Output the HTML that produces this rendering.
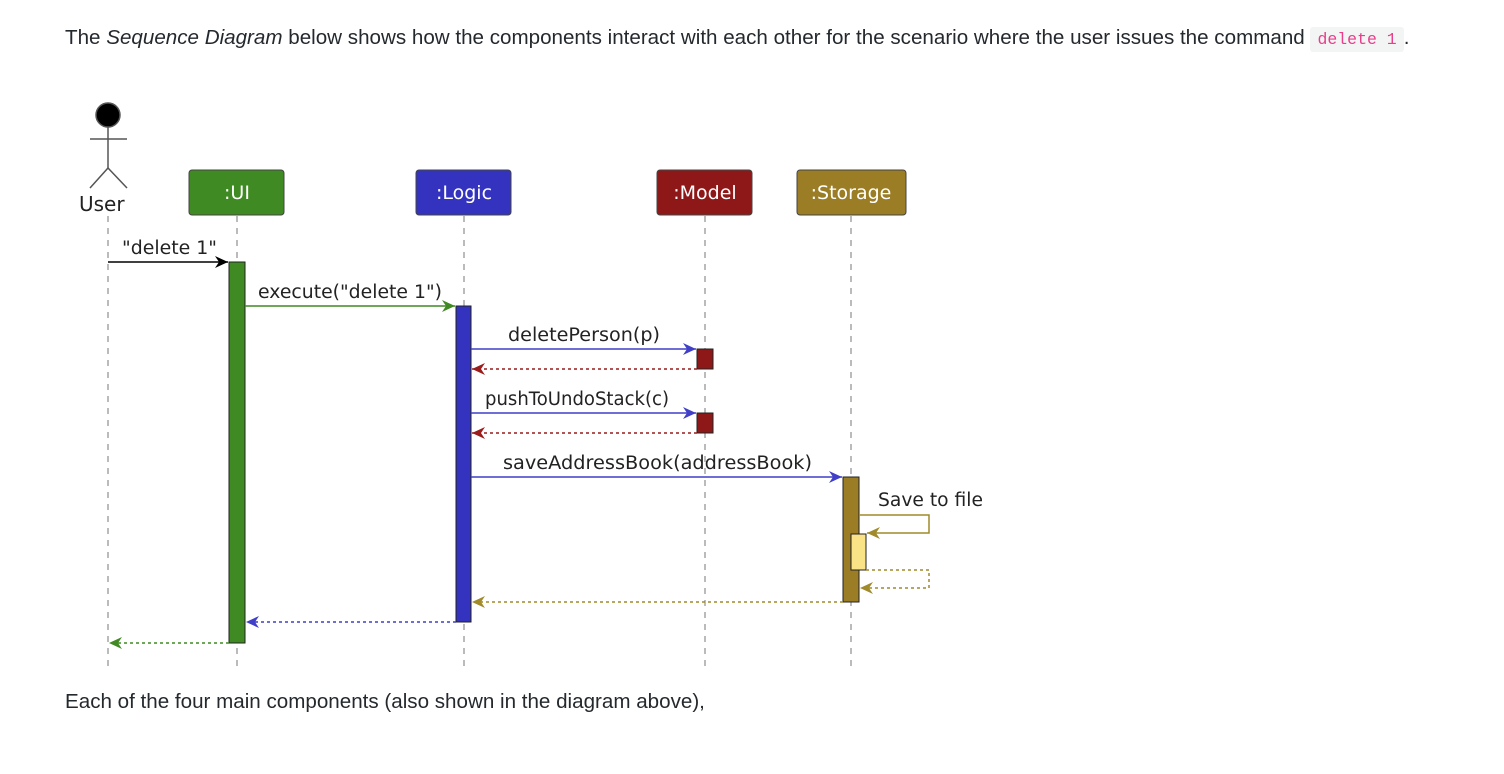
<!DOCTYPE html>
<html><head><meta charset="utf-8"><style>
body{margin:0;background:#fff;width:1504px;height:774px;overflow:hidden;font-family:"Liberation Sans","DejaVu Sans",sans-serif;color:#24292e}
.p{position:absolute;left:65px;font-size:20.6px;white-space:nowrap}
code{font-family:"Liberation Mono",monospace;color:#e83e8c;background:#f3f4f4;padding:3px 7px;border-radius:3px;font-size:16.5px}
svg{position:absolute;left:0;top:0}
svg text{font-family:"DejaVu Sans",sans-serif}
</style></head><body>
<div class="p" style="top:26px">The <i>Sequence Diagram</i> below shows how the components interact with each other for the scenario where the user issues the command <code>delete 1</code>.</div>
<svg width="1504" height="774">
<defs>
<marker id="ak" markerWidth="14" markerHeight="12" refX="13" refY="6" orient="auto" markerUnits="userSpaceOnUse"><path d="M0,0 L13,6 L0,12 L4,6 Z" fill="#000"/></marker>
<marker id="ag" markerWidth="14" markerHeight="12" refX="13" refY="6" orient="auto" markerUnits="userSpaceOnUse"><path d="M0,0 L13,6 L0,12 L4,6 Z" fill="#3f8a22"/></marker>
<marker id="ab" markerWidth="14" markerHeight="12" refX="13" refY="6" orient="auto" markerUnits="userSpaceOnUse"><path d="M0,0 L13,6 L0,12 L4,6 Z" fill="#3f3fc8"/></marker>
<marker id="ar" markerWidth="14" markerHeight="12" refX="13" refY="6" orient="auto" markerUnits="userSpaceOnUse"><path d="M0,0 L13,6 L0,12 L4,6 Z" fill="#9a1c1c"/></marker>
<marker id="ay" markerWidth="14" markerHeight="12" refX="13" refY="6" orient="auto" markerUnits="userSpaceOnUse"><path d="M0,0 L13,6 L0,12 L4,6 Z" fill="#a08a2a"/></marker>
</defs>
<g stroke="#777" stroke-dasharray="6,6" stroke-width="1">
<line x1="108" y1="216" x2="108" y2="672"/><line x1="237" y1="216" x2="237" y2="672"/><line x1="464" y1="216" x2="464" y2="672"/><line x1="705" y1="216" x2="705" y2="672"/><line x1="851" y1="216" x2="851" y2="672"/>
</g>
<g stroke="#555" stroke-width="1.5" fill="none">
<circle cx="108" cy="115" r="12" fill="#000"/>
<line x1="90" y1="139" x2="127" y2="139"/><line x1="108" y1="127" x2="108" y2="168"/>
<path d="M90,188 L108,168 L127,188"/>
</g>
<text x="79" y="211" font-size="20" fill="#222">User</text>
<g stroke="#444" stroke-width="1">
<rect x="189" y="170" width="95" height="45" rx="3" fill="#3f8a22"/>
<rect x="416" y="170" width="95" height="45" rx="3" fill="#3333c0"/>
<rect x="657" y="170" width="95" height="45" rx="3" fill="#8e1818"/>
<rect x="797" y="170" width="109" height="45" rx="3" fill="#9a7d25"/>
</g>
<g font-size="19" fill="#fff" text-anchor="middle">
<text x="237" y="199">:UI</text><text x="464" y="199">:Logic</text><text x="705" y="199">:Model</text><text x="851" y="199">:Storage</text>
</g>
<g stroke="#222" stroke-width="1">
<rect x="229" y="262" width="16" height="381" fill="#3f8a22"/>
<rect x="456" y="306" width="15" height="316" fill="#3333c0"/>
<rect x="697" y="349" width="16" height="20" fill="#8e1818"/>
<rect x="697" y="413" width="16" height="20" fill="#8e1818"/>
<rect x="843" y="477" width="16" height="125" fill="#9a7d25"/>
<rect x="851" y="534" width="15" height="36" fill="#fae287"/>
</g>
<g stroke-width="1.5" fill="none">
<line x1="108" y1="262" x2="228" y2="262" stroke="#000" marker-end="url(#ak)"/>
<line x1="245" y1="306" x2="455" y2="306" stroke="#3f8a22" marker-end="url(#ag)"/>
<line x1="471" y1="349" x2="696" y2="349" stroke="#3f3fc8" marker-end="url(#ab)"/>
<line x1="697" y1="369" x2="472" y2="369" stroke="#9a1c1c" stroke-dasharray="3,3" marker-end="url(#ar)"/>
<line x1="471" y1="413" x2="696" y2="413" stroke="#3f3fc8" marker-end="url(#ab)"/>
<line x1="697" y1="433" x2="472" y2="433" stroke="#9a1c1c" stroke-dasharray="3,3" marker-end="url(#ar)"/>
<line x1="471" y1="477" x2="842" y2="477" stroke="#3f3fc8" marker-end="url(#ab)"/>
<path d="M859,515 H929 V533 H867" stroke="#a08a2a" marker-end="url(#ay)"/>
<path d="M866,570 H929 V588 H860" stroke="#a08a2a" stroke-dasharray="3,3" marker-end="url(#ay)"/>
<line x1="843" y1="602" x2="472" y2="602" stroke="#a08a2a" stroke-dasharray="3,3" marker-end="url(#ay)"/>
<line x1="456" y1="622" x2="246" y2="622" stroke="#3f3fc8" stroke-dasharray="3,3" marker-end="url(#ab)"/>
<line x1="229" y1="643" x2="109" y2="643" stroke="#3f8a22" stroke-dasharray="3,3" marker-end="url(#ag)"/>
</g>
<g font-size="18.5" fill="#222" lengthAdjust="spacingAndGlyphs">
<text x="122" y="254" textLength="95" lengthAdjust="spacingAndGlyphs">"delete 1"</text>
<text x="258" y="298" textLength="184" lengthAdjust="spacingAndGlyphs">execute("delete 1")</text>
<text x="508" y="341" textLength="152" lengthAdjust="spacingAndGlyphs">deletePerson(p)</text>
<text x="485" y="405" textLength="184" lengthAdjust="spacingAndGlyphs">pushToUndoStack(c)</text>
<text x="503" y="469" textLength="309" lengthAdjust="spacingAndGlyphs">saveAddressBook(addressBook)</text>
<text x="878" y="506" textLength="105" lengthAdjust="spacingAndGlyphs">Save to file</text>
</g>
</svg>
<div class="p" style="top:690px">Each of the four main components (also shown in the diagram above),</div>
</body></html>
